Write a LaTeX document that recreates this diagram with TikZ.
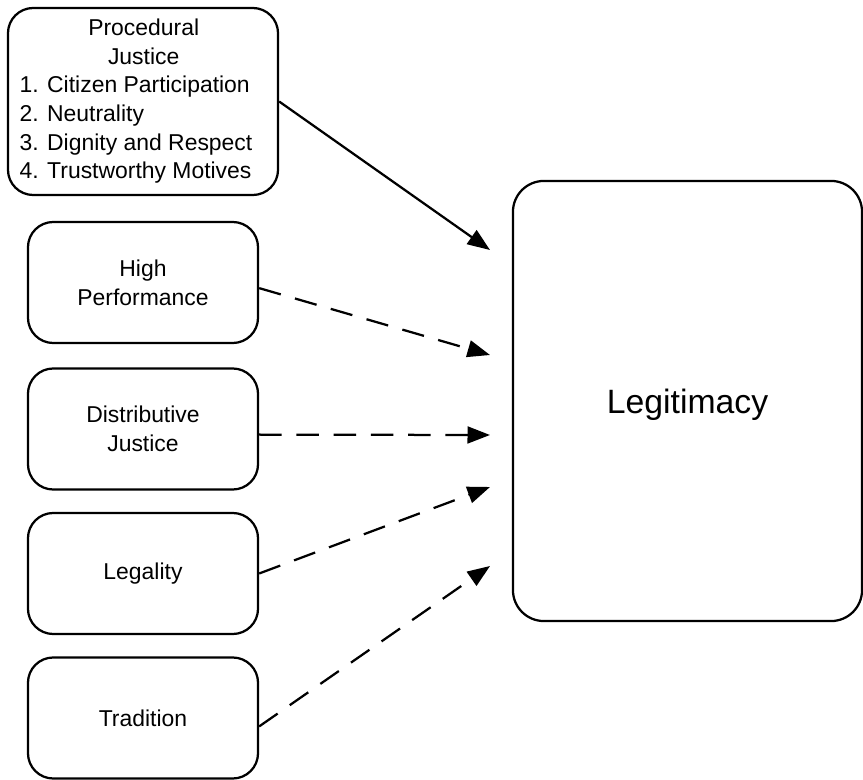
\documentclass[tikz,border=0pt]{standalone}
\usepackage{fontspec}
\setmainfont{Liberation Sans}
\usetikzlibrary{arrows.meta}

\begin{document}
\begin{tikzpicture}[x=0.025cm, y=-0.025cm,
  font=\fontsize{16.3}{20.4}\selectfont,
  box/.style={draw, line width=1.6pt, rounded corners=18pt,
    minimum width=5.75cm, minimum height=3.025cm, align=center, inner sep=0pt},
  arr/.style={line width=1.6pt, -{Triangle[length=16pt, width=12pt]}},
  dsh/.style={arr, dash pattern=on 16pt off 10.5pt}]
  \useasboundingbox (0,0) rectangle (863,780);
  % Sources of legitimacy
  \node[box, minimum width=6.75cm, minimum height=4.675cm] (proc) at (143,101.5)
    {\begin{tabular}{@{}l@{}}
      \multicolumn{1}{@{}c@{}}{\hspace*{11pt}Procedural}\\
      \multicolumn{1}{@{}c@{}}{\hspace*{11pt}Justice}\\
      1. Citizen Participation\\
      2. Neutrality\\
      3. Dignity and Respect\\
      4. Trustworthy Motives
    \end{tabular}\hspace*{10pt}};
  \node[box] (perf) at (143,282.5) {High\\Performance};
  \node[box] (distr) at (143,429) {Distributive\\Justice};
  \node[box] (legal) at (143,573.5) {Legality};
  \node[box] (trad) at (143,718) {Tradition};
  % Legitimacy
  \node[box, minimum width=8.725cm, minimum height=11cm, rounded corners=22pt,
    text depth=0pt, font=\fontsize{24}{29}\selectfont] (legit) at (687.5,401) {Legitimacy};
  % Arrow ends, short of the target box
  \coordinate (in1) at (490,250);
  \coordinate (in2) at (490,355);
  \coordinate (in3) at (490,435);
  \coordinate (in4) at (490,487);
  \coordinate (in5) at (490,566);
  \draw[arr] (proc.east) -- (in1);
  \draw[dsh] ([yshift=-4pt]perf.east) -- (in2);
  \draw[dsh] ([yshift=-4pt]distr.east) -- (in3);
  \draw[dsh] (legal.east) -- (in4);
  \draw[dsh] ([yshift=-6pt]trad.east) -- (in5);
\end{tikzpicture}
\end{document}
